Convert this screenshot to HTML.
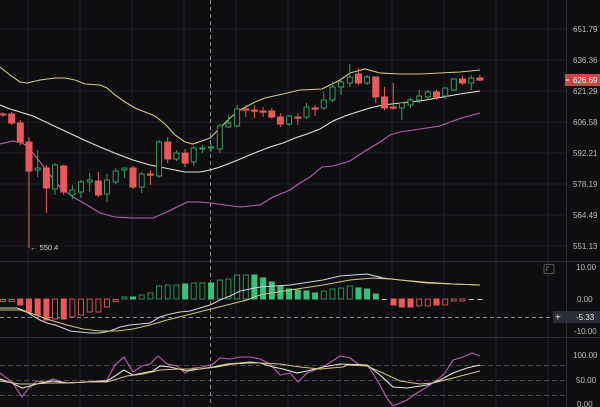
<!DOCTYPE html>
<html><head><meta charset="utf-8"><style>
html,body{margin:0;padding:0;background:#0e0e10;}
svg{display:block;}
text{font-family:"Liberation Sans",sans-serif;}
</style></head><body>
<svg width="600" height="407" viewBox="0 0 600 407" xmlns="http://www.w3.org/2000/svg">
<rect x="0" y="0" width="600" height="407" fill="#0e0e10"/>
<!-- vertical grid -->
<g stroke="#1f2023" stroke-width="1">
<line x1="28" y1="0" x2="28" y2="407"/><line x1="80" y1="0" x2="80" y2="407"/><line x1="132" y1="0" x2="132" y2="407"/><line x1="184" y1="0" x2="184" y2="407"/><line x1="236" y1="0" x2="236" y2="407"/><line x1="288" y1="0" x2="288" y2="407"/><line x1="340" y1="0" x2="340" y2="407"/><line x1="392" y1="0" x2="392" y2="407"/><line x1="444" y1="0" x2="444" y2="407"/><line x1="496" y1="0" x2="496" y2="407"/><line x1="548" y1="0" x2="548" y2="407"/>
<line x1="0" y1="29" x2="566" y2="29"/><line x1="0" y1="60" x2="566" y2="60"/><line x1="0" y1="91" x2="566" y2="91"/><line x1="0" y1="122" x2="566" y2="122"/><line x1="0" y1="153" x2="566" y2="153"/><line x1="0" y1="184" x2="566" y2="184"/><line x1="0" y1="215" x2="566" y2="215"/><line x1="0" y1="246" x2="566" y2="246"/>
</g>
<g stroke="#2a2b2f" stroke-width="1">
<line x1="0" y1="261.5" x2="600" y2="261.5"/>
<line x1="0" y1="337.5" x2="600" y2="337.5"/>
<line x1="566.5" y1="0" x2="566.5" y2="407"/>
</g>
<!-- KDJ dashed levels -->
<g stroke="#4a4b4f" stroke-width="1" stroke-dasharray="5,3">
<line x1="0" y1="365.5" x2="566" y2="365.5"/>
<line x1="0" y1="380.5" x2="566" y2="380.5"/>
<line x1="0" y1="395.5" x2="566" y2="395.5"/>
</g>
<!-- crosshair -->
<g stroke="#8a8a8e" stroke-width="1" stroke-dasharray="4,3">
<line x1="210.5" y1="0" x2="210.5" y2="407"/>
<line x1="0" y1="317.5" x2="553" y2="317.5"/>
</g>

<!-- Bollinger -->
<polyline fill="none" stroke="#d2c97e" stroke-width="1.1" points="0,67 10,75 20,82 27,83 40,80 55,78 65,78 75,80 85,84 100,85 107,88 115,95 125,102 135,108 145,112 155,116 165,124 175,135 185,142 193,144 210,138 220,128 230,118 240,110 255,102 265,98 283,94 300,90 322,89 340,80 350,73 365,69 380,73 400,74 420,74 440,73 460,72 480,70"/>
<polyline fill="none" stroke="#e4e2d6" stroke-width="1.1" points="0,105 10,109 20,112 33,116 50,124 67,132 84,140 100,147 117,154 133,160 150,165 160,167 170,169 185,172 200,172 210,170 220,167 233,162 245,157 257,152 270,147 283,143 295,138 307,134 320,129 333,121 345,116 357,112 370,108 383,105 400,103 420,101 443,97 460,94 480,91"/>
<polyline fill="none" stroke="#b463ad" stroke-width="1.1" points="0,144 13,141 22,143 27,146 37,158 50,175 60,187 73,197 87,205 100,213 115,217 133,218 153,218 167,212 187,202 200,202 210,203 240,207 260,205 273,197 290,190 300,183 310,177 322,167 333,166 350,161 365,151 380,142 390,135 400,132 420,129 440,126 450,122 465,117 480,113"/>

<!-- candles -->
<g stroke-width="1">
<g stroke="#e85a5a" fill="#e85a5a">
<line x1="3" y1="112" x2="3" y2="117"/><rect x="0" y="114" width="6" height="1"/>
<line x1="11.7" y1="112" x2="11.7" y2="125"/><rect x="8.7" y="114" width="6" height="9"/>
<line x1="20.3" y1="120" x2="20.3" y2="145"/><rect x="17.3" y="123" width="6" height="19"/>
<line x1="29" y1="137" x2="29" y2="248"/><rect x="26" y="142" width="6" height="29"/>
<line x1="46.4" y1="165" x2="46.4" y2="213"/><rect x="43.4" y="168" width="6" height="20"/>
<line x1="63.7" y1="165" x2="63.7" y2="195"/><rect x="60.7" y="166" width="6" height="26"/>
<line x1="98.4" y1="172" x2="98.4" y2="197"/><rect x="95.4" y="181" width="6" height="14"/>
<line x1="133" y1="166" x2="133" y2="189"/><rect x="130" y="168" width="6" height="19"/>
<line x1="150.4" y1="170" x2="150.4" y2="185"/><rect x="147.4" y="174" width="6" height="1.2"/>
<line x1="167.7" y1="137" x2="167.7" y2="163"/><rect x="164.7" y="142" width="6" height="17"/>
<line x1="185.1" y1="149" x2="185.1" y2="167"/><rect x="182.1" y="153" width="6" height="10"/>
<line x1="245.8" y1="105" x2="245.8" y2="117"/><rect x="242.8" y="109" width="6" height="1.2"/>
<line x1="254.4" y1="105" x2="254.4" y2="118"/><rect x="251.4" y="110" width="6" height="1.2"/>
<line x1="263.1" y1="107" x2="263.1" y2="117"/><rect x="260.1" y="111" width="6" height="1.2"/>
<line x1="271.8" y1="108" x2="271.8" y2="119"/><rect x="268.8" y="111" width="6" height="6"/>
<line x1="280.4" y1="113" x2="280.4" y2="127"/><rect x="277.4" y="117" width="6" height="7"/>
<line x1="297.8" y1="113" x2="297.8" y2="125"/><rect x="294.8" y="117" width="6" height="1.2"/>
<line x1="315.1" y1="105" x2="315.1" y2="116"/><rect x="312.1" y="108" width="6" height="1.2"/>
<line x1="358.5" y1="68" x2="358.5" y2="85"/><rect x="355.5" y="74" width="6" height="9"/>
<line x1="375.8" y1="77" x2="375.8" y2="103"/><rect x="372.8" y="77" width="6" height="20"/>
<line x1="384.5" y1="87" x2="384.5" y2="110"/><rect x="381.5" y="97" width="6" height="11"/>
<line x1="393.2" y1="83" x2="393.2" y2="110"/><rect x="390.2" y="107" width="6" height="1.2"/>
<line x1="436.5" y1="90" x2="436.5" y2="100"/><rect x="433.5" y="92" width="6" height="5"/>
<line x1="462.5" y1="76" x2="462.5" y2="85"/><rect x="459.5" y="79" width="6" height="4"/>
<line x1="479.9" y1="75" x2="479.9" y2="81"/><rect x="476.9" y="78" width="6" height="2"/>
</g>
<g stroke="#3a9c62" fill="#0e0e10">
<line x1="37.7" y1="150" x2="37.7" y2="177"/><rect x="35.2" y="168" width="5" height="2"/>
<line x1="55" y1="163" x2="55" y2="195"/><rect x="52.5" y="165" width="5" height="24"/>
<line x1="72.4" y1="185" x2="72.4" y2="199"/><rect x="69.9" y="190" width="5" height="5"/>
<line x1="81" y1="180" x2="81" y2="198"/><rect x="78.5" y="182" width="5" height="10"/>
<line x1="89.7" y1="173" x2="89.7" y2="192"/><rect x="87.2" y="180" width="5" height="2"/>
<line x1="107" y1="174" x2="107" y2="202"/><rect x="104.5" y="180" width="5" height="14"/>
<line x1="115.7" y1="168" x2="115.7" y2="184"/><rect x="113.2" y="171" width="5" height="11"/>
<line x1="124.4" y1="168" x2="124.4" y2="178"/><rect x="121.9" y="168" width="5" height="2"/>
<line x1="141.7" y1="172" x2="141.7" y2="193"/><rect x="139.2" y="174" width="5" height="13"/>
<line x1="159.1" y1="140" x2="159.1" y2="178"/><rect x="156.6" y="142" width="5" height="34"/>
<line x1="176.4" y1="150" x2="176.4" y2="161"/><rect x="173.9" y="153" width="5" height="6"/>
<line x1="193.7" y1="146" x2="193.7" y2="166"/><rect x="191.2" y="148" width="5" height="14"/>
<line x1="202.4" y1="145" x2="202.4" y2="153"/><rect x="199.9" y="148" width="5" height="1"/>
<line x1="211.1" y1="143" x2="211.1" y2="152"/><rect x="208.6" y="147" width="5" height="1"/>
<line x1="219.8" y1="124" x2="219.8" y2="153"/><rect x="217.3" y="126" width="5" height="23"/>
<line x1="228.4" y1="115" x2="228.4" y2="128"/><rect x="225.9" y="123" width="5" height="4"/>
<line x1="237.1" y1="105" x2="237.1" y2="127"/><rect x="234.6" y="109" width="5" height="17"/>
<line x1="289.1" y1="115" x2="289.1" y2="126"/><rect x="286.6" y="116" width="5" height="8"/>
<line x1="306.5" y1="103" x2="306.5" y2="119"/><rect x="304" y="107" width="5" height="10"/>
<line x1="323.8" y1="92" x2="323.8" y2="110"/><rect x="321.3" y="100" width="5" height="8"/>
<line x1="332.5" y1="82" x2="332.5" y2="102"/><rect x="330" y="87" width="5" height="13"/>
<line x1="341.1" y1="80" x2="341.1" y2="95"/><rect x="338.6" y="82" width="5" height="5"/>
<line x1="349.8" y1="64" x2="349.8" y2="87"/><rect x="347.3" y="77" width="5" height="6"/>
<line x1="367.1" y1="75" x2="367.1" y2="85"/><rect x="364.6" y="77" width="5" height="6"/>
<line x1="401.8" y1="102" x2="401.8" y2="120"/><rect x="399.3" y="103" width="5" height="5"/>
<line x1="410.5" y1="98" x2="410.5" y2="108"/><rect x="408" y="100" width="5" height="5"/>
<line x1="419.2" y1="90" x2="419.2" y2="103"/><rect x="416.7" y="96" width="5" height="4"/>
<line x1="427.8" y1="90" x2="427.8" y2="100"/><rect x="425.3" y="92" width="5" height="5"/>
<line x1="445.2" y1="88" x2="445.2" y2="99"/><rect x="442.7" y="88" width="5" height="8"/>
<line x1="453.8" y1="78" x2="453.8" y2="91"/><rect x="451.3" y="79" width="5" height="11"/>
<line x1="471.2" y1="75" x2="471.2" y2="90"/><rect x="468.7" y="78" width="5" height="5"/>
</g>
</g>
<text x="30" y="250" font-size="7.5" fill="#cfcfcf">← 550.4</text>

<!-- MACD histogram -->
<g fill="#e85a5a" stroke="#e85a5a" stroke-width="1">
<rect x="17.8" y="299" width="5" height="6"/>
<rect x="26.5" y="299" width="5" height="13"/>
<rect x="35.2" y="299" width="5" height="16"/>
<rect x="43.9" y="299" width="5" height="21"/>
<rect x="61.2" y="299" width="5" height="20"/>
<rect x="391" y="299" width="5" height="6"/>
<rect x="399.3" y="299" width="5" height="8"/>
<rect x="408" y="299" width="5" height="8"/>
<rect x="434" y="299" width="5" height="6"/>
</g>
<g fill="#0e0e10" stroke="#c45454" stroke-width="1">
<rect x="0.5" y="299.5" width="5" height="2"/>
<rect x="9.2" y="299.5" width="5" height="2"/>
<rect x="52.5" y="299" width="5" height="20"/>
<rect x="69.9" y="299" width="5" height="18"/>
<rect x="78.5" y="299" width="5" height="16"/>
<rect x="87.2" y="299" width="5" height="13"/>
<rect x="95.9" y="299" width="5" height="13"/>
<rect x="104.5" y="299" width="5" height="8"/>
<rect x="113.2" y="299.5" width="5" height="2"/>
<rect x="416.7" y="299" width="5" height="7"/>
<rect x="425.3" y="299" width="5" height="7"/>
<rect x="442.7" y="299" width="5" height="6"/>
<rect x="451.3" y="299" width="5" height="2"/>
<rect x="460" y="299" width="5" height="2"/>
</g>
<g stroke="#c8c8c8" stroke-width="1">
<line x1="468.7" y1="299.5" x2="473.7" y2="299.5"/>
<line x1="477.4" y1="299.5" x2="482.4" y2="299.5"/>
<line x1="382" y1="299.5" x2="387" y2="299.5"/>
</g>
<g fill="#35c27c" stroke="#35c27c" stroke-width="1">
<rect x="130.5" y="297" width="5" height="2"/>
<rect x="182.6" y="284" width="5" height="15"/>
<rect x="208.6" y="283" width="5" height="16"/>
<rect x="251.9" y="275" width="5" height="24"/>
<rect x="260.6" y="278" width="5" height="21"/>
<rect x="269.3" y="282" width="5" height="17"/>
<rect x="277.9" y="286" width="5" height="13"/>
<rect x="286.6" y="289" width="5" height="10"/>
<rect x="295.3" y="290" width="5" height="9"/>
<rect x="304" y="291" width="5" height="8"/>
<rect x="312.6" y="293" width="5" height="6"/>
<rect x="356" y="288" width="5" height="11"/>
<rect x="364.6" y="289" width="5" height="10"/>
<rect x="373.3" y="294" width="5" height="5"/>
</g>
<g fill="#0e0e10" stroke="#2f8f5a" stroke-width="1">
<rect x="121.9" y="297" width="5" height="2"/>
<rect x="139.2" y="295" width="5" height="4"/>
<rect x="147.9" y="293" width="5" height="6"/>
<rect x="156.6" y="286" width="5" height="13"/>
<rect x="165.2" y="285" width="5" height="14"/>
<rect x="173.9" y="285" width="5" height="14"/>
<rect x="191.2" y="283" width="5" height="16"/>
<rect x="199.9" y="283" width="5" height="16"/>
<rect x="217.3" y="280" width="5" height="19"/>
<rect x="225.9" y="279" width="5" height="20"/>
<rect x="234.6" y="275" width="5" height="24"/>
<rect x="243.3" y="275" width="5" height="24"/>
<rect x="321.3" y="291" width="5" height="8"/>
<rect x="330" y="289" width="5" height="10"/>
<rect x="338.6" y="288" width="5" height="11"/>
<rect x="347.3" y="286" width="5" height="13"/>
</g>
<!-- MACD lines -->
<polyline fill="none" stroke="#d0d4de" stroke-width="1.1" points="0,308 17,308 25,311 33,316 40,320 47,323 55,325 63,328 70,331 80,332 90,333 100,333 110,331 120,327 130,325 140,324 150,323 160,317 170,314 180,312 190,311 200,308 210,305 220,300 230,296 240,291 260,287 290,285 323,280 340,276 367,274 383,278 400,280 427,283 453,284 480,285"/>
<polyline fill="none" stroke="#cfc57a" stroke-width="1.1" points="0,310 20,310 33,314 50,320 67,325 83,329 100,331 117,331 133,329 150,325 167,320 187,315 207,310 227,305 247,300 260,295 290,290 323,285 350,280 373,278 390,279 423,282 453,284 480,285"/>

<!-- KDJ lines -->
<polyline fill="none" stroke="#b463ad" stroke-width="1.1" points="0,373 12,382 22,397 28,389 37,381 45,382 53,379 62,382 70,383 83,382 97,381 107,380 115,365 124,357 133,372 142,366 150,364 158,356 167,364 177,366 185,373 193,368 203,367 213,364 220,358 230,359 240,357 250,357 260,359 270,364 280,375 290,373 298,382 307,373 323,367 340,356 350,358 358,364 368,366 377,380 387,398 393,406 407,400 417,393 427,387 437,380 445,373 453,360 463,357 472,353 480,356"/>
<polyline fill="none" stroke="#e6e4d8" stroke-width="1.1" points="0,379 12,383 22,388 30,386 40,383 53,381 67,383 87,382 107,381 115,376 124,370 133,375 143,373 153,371 160,366 170,367 187,371 200,369 213,367 227,364 240,363 250,362 260,363 273,367 283,369 297,373 307,371 323,367 340,364 367,365 380,375 393,387 407,388 427,385 440,380 453,373 467,368 480,365"/>
<polyline fill="none" stroke="#cfc57a" stroke-width="1.1" points="0,381 20,384 33,384 50,383 67,383 87,382 107,382 127,376 143,374 160,370 180,369 200,369 217,367 233,364 250,363 260,363 280,364 300,367 320,369 343,367 347,365 367,366 383,373 400,381 420,384 433,383 453,378 480,371"/>

<!-- axis labels -->
<g font-size="8" fill="#bdbdbd">
<text x="573" y="32">651.79</text>
<text x="573" y="63">636.36</text>
<text x="573" y="94">621.29</text>
<text x="573" y="125">606.58</text>
<text x="573" y="156">592.21</text>
<text x="573" y="187">578.19</text>
<text x="573" y="218">564.49</text>
<text x="573" y="249">551.13</text>
<text x="576" y="270">10.00</text>
<text x="577" y="302">0.00</text>
<text x="574" y="334">-10.00</text>
<text x="573" y="358">100.00</text>
<text x="576" y="383">50.00</text>
<text x="577" y="407">0.00</text>
</g>
<rect x="565" y="74" width="35" height="12" fill="#c44a4a"/>
<line x1="566" y1="80" x2="569" y2="80" stroke="#fff" stroke-width="1"/>
<text x="573" y="83" font-size="8" fill="#f2f2f2">626.69</text>
<rect x="553" y="311" width="47" height="12" fill="#2b2e35"/>
<text x="555" y="320.5" font-size="10" fill="#e0e0e0">+</text>
<text x="576" y="320" font-size="8" fill="#e6e6e6">-5.33</text>
<rect x="544" y="264.5" width="10" height="9" rx="1.5" fill="none" stroke="#555" stroke-width="1"/>
<path d="M546.5 267 h3 M546.5 267 v4" stroke="#555" stroke-width="1" fill="none"/>
</svg>
</body></html>
